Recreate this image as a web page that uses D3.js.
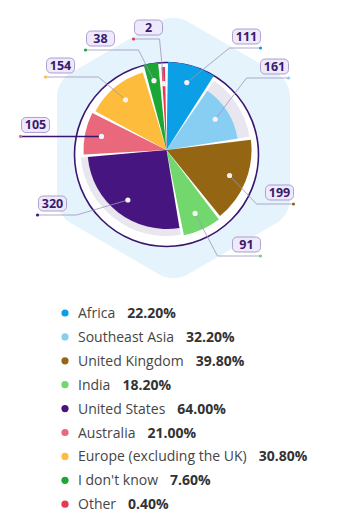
<!DOCTYPE html>
<html>
<head>
<meta charset="utf-8">
<script src="https://cdn.jsdelivr.net/npm/d3@7"></script>
<style>
  body { margin: 0; background: #fff; }
  svg { display: block; }
</style>
</head>
<body>
<div id="canvas"></div>
<script>
"use strict"

/* Data */
let regions = ["Africa", "Southeast Asia", "United Kingdom", "India", "United States",
    "Australia", "Europe (excluding the UK)", "I don't know", "Other"];
let counts = [111, 161, 199, 91, 320, 105, 154, 38, 2];
let shares = [22.2, 32.2, 39.8, 18.2, 64.0, 21.0, 30.8, 7.6, 0.4];

/* Styles */
let sliceColors = ["#0b9fe6", "#88cef2", "#946614", "#72d86e", "#47157f",
    "#e9687b", "#fdbc3b", "#1ca735", "#e23a50"];
let sliceRadius = [88, 72, 85, 87, 79, 83, 81, 88, 83];
let trackRadius = [0, 84, 0, 0, 86, 0, 0, 0, 0];

/* Callout layout: bend point and end x, relative to the pie centre */
let calloutBend = [[63, -102], [80, -72], [90, 54], [51, 106], [-90, 65], null, [-68, -73], [-28, -100], [-7, -111]];
let calloutEnd = [94, 122, 127, 94, -129, -146, -121, -81, -33];

/* Canvas */
let svgWidth = 337;
let svgHeight = 521;
let cx = 166.5;
let cy = 150;
let minSliceValue = 15; // keep tiny slices visible

let svg = d3.select("#canvas")
    .append("svg")
    .attr("width", svgWidth)
    .attr("height", svgHeight);

/* Rounded hexagon backdrop */
let hexR = 134.5;
let hexCx = 173.5;
let hexCy = 148;
let hexPts = d3.range(6).map(function (i) {
    let a = Math.PI / 3 * i;
    return [hexCx + hexR * Math.sin(a), hexCy - hexR * Math.cos(a)];
});
let hexPath = d3.path();
let corner = 28;
let m0 = [(hexPts[5][0] + hexPts[0][0]) / 2, (hexPts[5][1] + hexPts[0][1]) / 2];
hexPath.moveTo(m0[0], m0[1]);
for (let i = 0; i < 6; i++) {
    let p = hexPts[i];
    let n = hexPts[(i + 1) % 6];
    hexPath.arcTo(p[0], p[1], n[0], n[1], corner);
}
hexPath.closePath();
svg.append("path")
    .attr("d", hexPath.toString())
    .attr("fill", "#e4f3fc");

/* White disc with purple rim */
svg.append("circle")
    .attr("cx", cx)
    .attr("cy", cy + 4.5)
    .attr("r", 92)
    .attr("fill", "#fff")
    .attr("stroke", "#3a1670")
    .attr("stroke-width", 1.6);

/* Pie */
let pie = d3.pie()
    .sort(null)
    .value(function (d) { return Math.max(d, minSliceValue); });
let arcs = pie(counts);

let arc = d3.arc()
    .innerRadius(0)
    .padAngle(0.03)
    .padRadius(100);

let g = svg.append("g").attr("transform", "translate(" + cx + "," + cy + ")");

/* grey tracks behind some slices */
g.selectAll("path.track")
    .data(arcs.filter(function (d, i) { return trackRadius[i] > 0; }))
    .join("path")
    .attr("class", "track")
    .attr("fill", "#e8e6ef")
    .attr("d", function (d) {
        return arc.outerRadius(trackRadius[d.index])(d);
    });

g.selectAll("path.slice")
    .data(arcs)
    .join("path")
    .attr("class", "slice")
    .attr("fill", function (d, i) { return sliceColors[i]; })
    .attr("d", function (d, i) {
        return arc.outerRadius(sliceRadius[i])(d);
    });

/* Callouts */
let dotPos = arcs.map(function (d, i) {
    let a = (d.startAngle + d.endAngle) / 2;
    let r = sliceRadius[i] * 0.8;
    return [Math.sin(a) * r, -Math.cos(a) * r];
});

arcs.forEach(function (d, i) {
    let p = dotPos[i];
    let bend = calloutBend[i] ? calloutBend[i] : p;
    let end = [calloutEnd[i], bend[1]];
    let isActive = calloutBend[i] == null;

    g.append("polyline")
        .attr("points", [p, bend, end].map(function (q) { return q.join(","); }).join(" "))
        .attr("fill", "none")
        .attr("stroke", isActive ? "#3a1670" : "#9d96bb")
        .attr("stroke-width", isActive ? 1.5 : 0.8);

    g.append("circle")
        .attr("cx", end[0])
        .attr("cy", end[1])
        .attr("r", 1.6)
        .attr("fill", sliceColors[i]);

    g.append("circle")
        .attr("cx", p[0])
        .attr("cy", p[1])
        .attr("r", 2.6)
        .attr("fill", "#f7f0f6");

    let boxW = 28;
    let boxX = end[0] > 0 ? end[0] - boxW : end[0] + 1;
    g.append("rect")
        .attr("x", boxX)
        .attr("y", end[1] - 19)
        .attr("width", boxW)
        .attr("height", 15)
        .attr("rx", 4.5)
        .attr("fill", "#efeafb")
        .attr("stroke", "#9a8cc4")
        .attr("stroke-width", 0.8);

    g.append("text")
        .attr("x", boxX + boxW / 2)
        .attr("y", end[1] - 7)
        .attr("text-anchor", "middle")
        .attr("font-family", "'Open Sans', sans-serif")
        .attr("font-weight", "bold")
        .attr("font-size", 12.5)
        .attr("fill", "#3a1a6c")
        .text(counts[i]);
});

/* Legend */
let legendTop = 313;
let legendStep = 23.9;
for (let i = 0; i < regions.length; i++) {
    let y = legendTop + i * legendStep;
    svg.append("circle")
        .attr("cx", 65)
        .attr("cy", y)
        .attr("r", 3.6)
        .attr("fill", sliceColors[i]);

    let label = svg.append("text")
        .attr("x", 78)
        .attr("y", y + 5)
        .attr("font-family", "'Open Sans', sans-serif")
        .attr("font-size", 14)
        .attr("fill", "#454545")
        .text(regions[i]);

    let w = label.node().getComputedTextLength();
    svg.append("text")
        .attr("x", 78 + w + 12)
        .attr("y", y + 5)
        .attr("font-family", "'Open Sans', sans-serif")
        .attr("font-size", 14)
        .attr("font-weight", "bold")
        .attr("fill", "#333")
        .text(d3.format(".2f")(shares[i]) + "%");
}
</script>
</body>
</html>
